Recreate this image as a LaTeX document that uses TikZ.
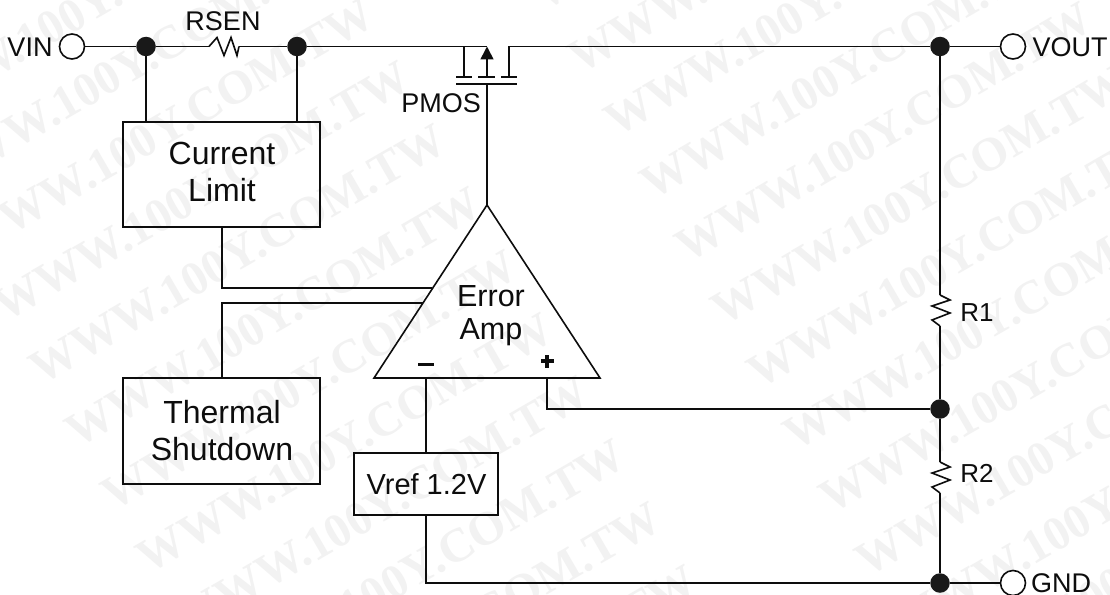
\documentclass[tikz,border=0pt]{standalone}
\usepackage{fontspec}
\setmainfont{Liberation Sans}
\newfontfamily\wmfont{Liberation Serif}
\usetikzlibrary{arrows.meta}
\tikzset{
  wire/.style={line width=1.6pt,draw=black!95},
  dotn/.style={circle,fill=black!90,inner sep=0pt,minimum size=19.5pt},
  term/.style={circle,draw=black!95,line width=1.6pt,fill=white,inner sep=0pt,minimum size=25pt},
  blk/.style={rectangle,draw=black!95,line width=1.6pt,inner sep=0pt,align=center},
  lbl/.style={inner sep=0pt,font=\fontsize{27}{30}\selectfont,text=black!95},
  big/.style={inner sep=0pt,align=center,font=\fontsize{32}{37}\selectfont,text=black!95},
  wm/.style={inner sep=0pt,rotate=30,anchor=north west,font=\wmfont\bfseries\fontsize{47.6}{48}\selectfont,text=black!5},
}
\begin{document}
\begin{tikzpicture}[x=1pt,y=-1pt]
\useasboundingbox (0,0) rectangle (1110,594);
\fill[white] (0,0) rectangle (1110,594);
% watermark
\begin{scope}
\clip (0,0) rectangle (1110,594);
\foreach \ii in {-12,...,12}{
  \foreach \jj in {-2,...,3}{
    \pgfmathsetmacro{\xx}{600+35.9*\ii+539*\jj}
    \pgfmathsetmacro{\yy}{110+62.9*\ii-311*\jj}
    \pgfmathsetmacro{\tlo}{max(0,-\xx-30,(\yy-624)/0.577)}
    \pgfmathsetmacro{\thi}{min(416,1110-\xx,(\yy+40)/0.577)}
    \pgfmathtruncatemacro{\vis}{\tlo<=\thi}
    \ifnum\vis=1
      \node[wm] (wm\ii x\jj) at (\xx,\yy) {WWW.100Y.COM.TW};
    \fi
  }
}
\end{scope}
% coordinates
\coordinate (mosL) at (464,46.5);
\coordinate (mosC) at (487,46.5);
\coordinate (mosR) at (509,46.5);
\coordinate (apex) at (487,205);
\coordinate (triL) at (374,378);
\coordinate (triR) at (600,378);
\coordinate (gate) at (487,84);
\coordinate (inCL) at (432,288);
\coordinate (inTS) at (423,303);
\coordinate (inM) at (426,378);
\coordinate (inP) at (547,378);
% blocks
\node[blk,minimum width=197pt,minimum height=105pt] (lim) at (221.5,174.5) {};
\node[big] (limt) at (222,172) {Current\\Limit};
\node[blk,minimum width=197pt,minimum height=106pt] (ts) at (221.5,431) {};
\node[big] (tst) at (222,431) {Thermal\\Shutdown};
\node[blk,minimum width=144pt,minimum height=62pt] (vref) at (426,484) {};
\node[lbl,font=\fontsize{29}{32}\selectfont] (vreft) at (426.5,484) {Vref 1.2V};
% dots and terminals
\node[term] (vin) at (72,46.5) {};
\node[dotn] (d1) at (146,46.5) {};
\node[dotn] (d2) at (297,46.5) {};
\node[dotn] (d3) at (940,46.5) {};
\node[dotn] (d4) at (940,409) {};
\node[dotn] (d5) at (940,583) {};
\node[term] (vout) at (1013,46.5) {};
\node[term] (gnd) at (1013,583) {};
% resistor coordinates
\coordinate (rsA) at (209,46.5);
\coordinate (rsB) at (239,46.5);
\coordinate (r1A) at (940,295);
\coordinate (r1B) at (940,326);
\coordinate (r2A) at (940,462);
\coordinate (r2B) at (940,493);
% wires
\draw[wire] (vin) -- (d1);
\draw[wire] (d1) -- (rsA);
\draw[wire,line join=miter] (rsA) -- ++(8,-9) -- ++(7,18) -- ++(7,-18) -- ++(6,18) -- (rsB);
\draw[wire] (rsB) -- (d2);
\draw[wire] (d2) -- (mosC);
\draw[wire] (d1) -- (d1 |- lim.north);
\draw[wire] (d2) -- (d2 |- lim.north);
% PMOS
\draw[wire] (mosL) -- (464,77);
\draw[wire] (456,77) -- (472,77);
\draw[wire] (478,77) -- (495,77);
\draw[wire] (501,77) -- (517,77);
\draw[wire] (456,84) -- (517,84);
\draw[wire,-{Triangle[length=13pt,width=13pt]}] (487,77) -- (mosC);
\draw[wire] (509,77) -- (mosR) -- (d3);
\draw[wire] (gate) -- (apex);
\node[lbl] (pmos) at (441,103.5) {PMOS};
% amp
\draw[wire,line join=miter] (apex) -- (triL) -- (triR) -- cycle;
\node[inner sep=0pt,align=center,font=\fontsize{30.5}{33}\selectfont,text=black!95] (amp) at (491,316) {Error\\Amp};
\node[inner sep=0pt,minimum width=16pt,minimum height=3pt,fill=black!95] (minus) at (426,364.5) {};
\node[inner sep=0pt,minimum width=13pt,minimum height=3.5pt,fill=black!95] (plush) at (547,361) {};
\node[inner sep=0pt,minimum width=3.5pt,minimum height=13pt,fill=black!95] (plusv) at (547,361) {};
\draw[wire] (lim.south -| 222,0) |- (inCL);
\draw[wire] (ts.north -| 222,0) |- (inTS);
\draw[wire] (inM) -- (inM |- vref.north);
\draw[wire] (inP) |- (d4);
\draw[wire] (vref.south) |- (d5);
% right rail
\draw[wire] (d3) -- (r1A);
\draw[wire,line join=miter] (r1A) -- ++(10,5) -- ++(-18,6) -- ++(18,7) -- ++(-18,7) -- (r1B);
\draw[wire] (r1B) -- (d4);
\draw[wire] (d4) -- (r2A);
\draw[wire,line join=miter] (r2A) -- ++(10,5) -- ++(-18,6) -- ++(18,7) -- ++(-18,7) -- (r2B);
\draw[wire] (r2B) -- (d5);
\draw[wire] (d3) -- (vout);
\draw[wire] (d5) -- (gnd);
% labels
\node[lbl] (vinl) at (30,47.5) {VIN};
\node[lbl] (rsenl) at (223,21) {RSEN};
\node[lbl] (voutl) at (1070,47.5) {VOUT};
\node[lbl] (gndl) at (1061,583) {GND};
\node[lbl,font=\fontsize{26}{30}\selectfont] (r1l) at (977,312.5) {R1};
\node[lbl,font=\fontsize{26}{30}\selectfont] (r2l) at (977,473.5) {R2};
\end{tikzpicture}
\end{document}
